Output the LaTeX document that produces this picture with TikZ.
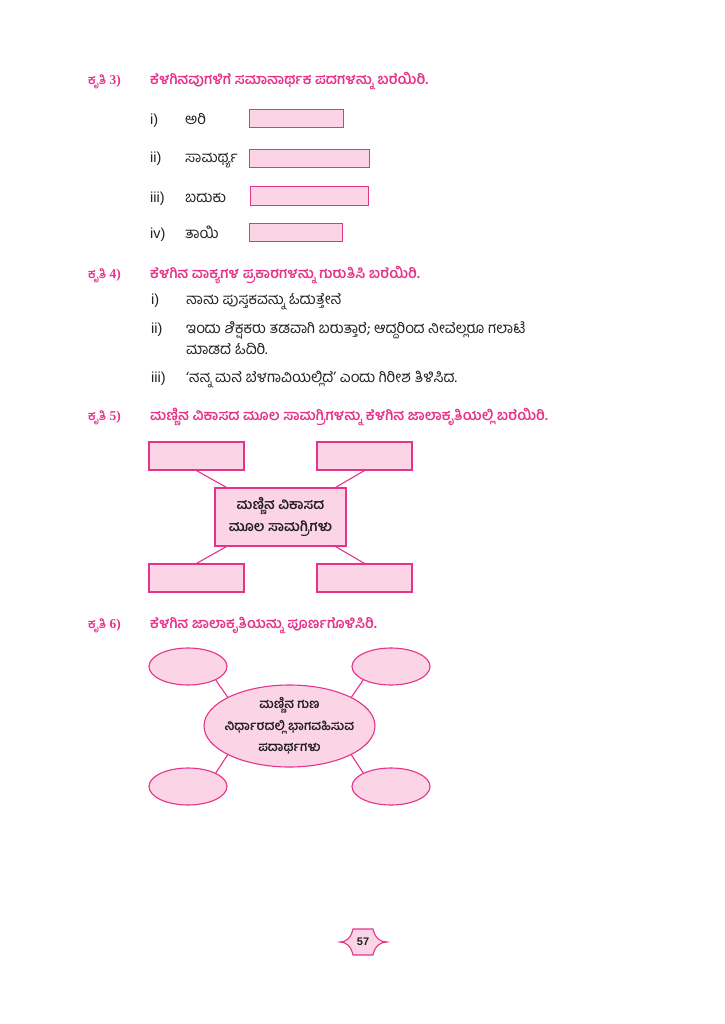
\documentclass[tikz,border=0pt]{standalone}
\usepackage{fontspec}
\usetikzlibrary{shapes.geometric}
\newfontfamily\kn[Script=Kannada]{Hind Mysuru}
\newfontfamily\lsans{Liberation Sans}
\newfontfamily\lserif{Liberation Serif}
\definecolor{mag}{HTML}{E6338A}
\definecolor{pinkfill}{HTML}{FBD4E6}
\definecolor{ink}{HTML}{231F20}
\begin{document}
\begin{tikzpicture}[x=1pt,y=-1pt,
  hd/.style={anchor=base west, inner sep=0, text=mag, font=\kn\bfseries\fontsize{14.3}{16}\selectfont},
  kr/.style={anchor=base west, inner sep=0, text=mag, font=\kn\bfseries\fontsize{12.5}{16}\selectfont},
  lab/.style={anchor=base west, inner sep=0, text=ink, font=\lsans\fontsize{14.5}{16}\selectfont},
  txt/.style={anchor=base west, inner sep=0, text=ink, font=\kn\fontsize{15}{17}\selectfont},
  ansbox/.style={draw=mag, fill=pinkfill, line width=1.1pt, inner sep=0, anchor=north west, minimum height=18pt},
  pbox/.style={draw=mag, fill=pinkfill, line width=1.1pt, inner sep=0, minimum width=95pt, minimum height=28pt},
  oval/.style={ellipse, draw=mag, fill=pinkfill, line width=1.1pt, inner sep=0, minimum width=78pt, minimum height=37pt},
  link/.style={draw=mag, line width=1.1pt},
  ctext/.style={text=ink, align=center, font=\kn\bfseries\fontsize{14}{21.5}\selectfont}
]
\useasboundingbox[fill=white] (0,0) rectangle (724,1024);

% ---- Kruti 3
\node[kr] (k3) at (88,85) {ಕೃತಿ {\lserif\fontsize{13.5}{15}\selectfont 3)}};
\node[hd] (h3) at (150,85) {ಕೆಳಗಿನವುಗಳಿಗೆ ಸಮಾನಾರ್ಥಕ ಪದಗಳನ್ನು ಬರೆಯಿರಿ.};
\node[lab] (l3a) at (150,125) {i)};
\node[txt] (w3a) at (185,125) {ಅರಿ};
\node[ansbox, minimum width=94pt] (b3a) at (249,109) {};
\node[lab] (l3b) at (150,163) {ii)};
\node[txt] (w3b) at (185,163) {ಸಾಮರ್ಥ್ಯ};
\node[ansbox, minimum width=120pt] (b3b) at (249,149) {};
\node[lab] (l3c) at (150,203) {iii)};
\node[txt] (w3c) at (185,203) {ಬದುಕು};
\node[ansbox, minimum width=118pt, minimum height=19pt] (b3c) at (250,186) {};
\node[lab] (l3d) at (150,238) {iv)};
\node[txt] (w3d) at (185,238) {ತಾಯಿ};
\node[ansbox, minimum width=93pt] (b3d) at (249,223) {};

% ---- Kruti 4
\node[kr] (k4) at (88,278) {ಕೃತಿ {\lserif\fontsize{13.5}{15}\selectfont 4)}};
\node[hd] (h4) at (150,278) {ಕೆಳಗಿನ ವಾಕ್ಯಗಳ ಪ್ರಕಾರಗಳನ್ನು ಗುರುತಿಸಿ ಬರೆಯಿರಿ.};
\node[lab] (l4a) at (151,304) {i)};
\node[txt] (s4a) at (186,304) {ನಾನು ಪುಸ್ತಕವನ್ನು ಓದುತ್ತೇನೆ};
\node[lab] (l4b) at (151,333) {ii)};
\node[txt] (s4b) at (186,333) {ಇಂದು ಶಿಕ್ಷಕರು ತಡವಾಗಿ ಬರುತ್ತಾರೆ; ಆದ್ದರಿಂದ ನೀವೆಲ್ಲರೂ ಗಲಾಟೆ};
\node[txt] (s4c) at (186,354) {ಮಾಡದೆ ಓದಿರಿ.};
\node[lab] (l4c) at (151,382) {iii)};
\node[txt] (s4d) at (186,382) {‘ನನ್ನ ಮನೆ ಬೆಳಗಾವಿಯಲ್ಲಿದೆ’ ಎಂದು ಗಿರೀಶ ತಿಳಿಸಿದ.};

% ---- Kruti 5
\node[kr] (k5) at (88,420) {ಕೃತಿ {\lserif\fontsize{13.5}{15}\selectfont 5)}};
\node[hd] (h5) at (150,420) {ಮಣ್ಣಿನ ವಿಕಾಸದ ಮೂಲ ಸಾಮಗ್ರಿಗಳನ್ನು ಕೆಳಗಿನ ಜಾಲಾಕೃತಿಯಲ್ಲಿ ಬರೆಯಿರಿ.};
\node[pbox] (p5tl) at (196.5,456) {};
\node[pbox] (p5tr) at (364.5,456) {};
\node[pbox] (p5bl) at (196.5,578) {};
\node[pbox] (p5br) at (364.5,578) {};
\node[pbox, ctext, minimum width=131pt, minimum height=58pt] (p5c) at (280.5,517) {ಮಣ್ಣಿನ ವಿಕಾಸದ\\ಮೂಲ ಸಾಮಗ್ರಿಗಳು};
\draw[link] (p5tl.south) -- ([xshift=12pt]p5c.north west);
\draw[link] (p5tr.south) -- ([xshift=-11pt]p5c.north east);
\draw[link] (p5bl.north) -- ([xshift=12pt]p5c.south west);
\draw[link] (p5br.north) -- ([xshift=-11pt]p5c.south east);

% ---- Kruti 6
\node[kr] (k6) at (88,628) {ಕೃತಿ {\lserif\fontsize{13.5}{15}\selectfont 6)}};
\node[hd] (h6) at (150,628) {ಕೆಳಗಿನ ಜಾಲಾಕೃತಿಯನ್ನು ಪೂರ್ಣಗೊಳಿಸಿರಿ.};
\node[oval] (e6tl) at (188,666.5) {};
\node[oval] (e6tr) at (391,666.5) {};
\node[oval] (e6bl) at (188,786.5) {};
\node[oval] (e6br) at (391,786.5) {};
\node[oval, minimum width=171pt, minimum height=82pt] (e6c) at (289.5,726) {};
\node[ctext, font=\kn\bfseries\fontsize{12.8}{21.5}\selectfont, inner sep=0] (e6t) at (e6c.center) {ಮಣ್ಣಿನ ಗುಣ\\ನಿರ್ಧಾರದಲ್ಲಿ ಭಾಗವಹಿಸುವ\\ಪದಾರ್ಥಗಳು};
\draw[link] (e6tl.-26) -- (e6c.155);
\draw[link] (e6tr.206) -- (e6c.25);
\draw[link] (e6bl.26) -- (e6c.205);
\draw[link] (e6br.154) -- (e6c.-25);

% ---- page number
\draw[draw=mag, fill=pinkfill, line width=1.1pt]
  (353,929) -- (373,929) .. controls (375,938) and (380,942) .. (387,942)
  .. controls (380,942) and (375,946) .. (373,955) -- (353,955)
  .. controls (351,946) and (346,942) .. (340,942)
  .. controls (346,942) and (351,938) .. (353,929) -- cycle;
\node[text=ink, font=\lsans\bfseries\fontsize{11}{13}\selectfont] (pg) at (363,942) {57};
\end{tikzpicture}
\end{document}
